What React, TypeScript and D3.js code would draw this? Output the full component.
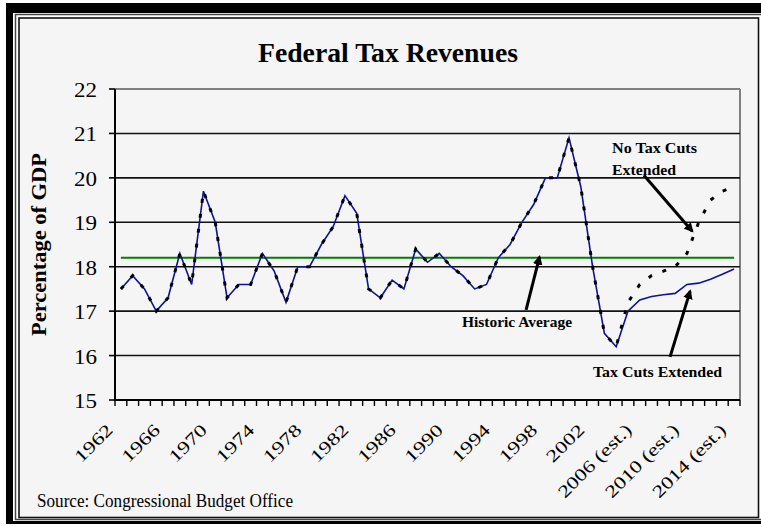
import React from 'react';
import * as d3 from 'd3';

const years = [1962, 1963, 1964, 1965, 1966, 1967, 1968, 1969, 1970, 1971, 1972, 1973, 1974, 1975, 1976, 1977, 1978, 1979, 1980, 1981, 1982, 1983, 1984, 1985, 1986, 1987, 1988, 1989, 1990, 1991, 1992, 1993, 1994, 1995, 1996, 1997, 1998, 1999, 2000, 2001, 2002, 2003, 2004, 2005, 2006, 2007, 2008, 2009, 2010, 2011, 2012, 2013, 2014];

// 1962-2004 actual revenues (% of GDP)
const historic = [17.5, 17.8, 17.5, 17.0, 17.3, 18.3, 17.6, 19.7, 19.0, 17.3, 17.6, 17.6, 18.3, 17.9, 17.2, 18.0, 18.0, 18.5, 18.9, 19.6, 19.2, 17.5, 17.3, 17.7, 17.5, 18.4, 18.1, 18.3, 18.0, 17.8, 17.5, 17.6, 18.2, 18.5, 19.0, 19.4, 20.0, 20.0, 20.9, 19.8, 18.0, 16.5, 16.2];
// 2005-2014 projections
const taxCutsExtendedProj = [17.0, 17.25, 17.33, 17.37, 17.4, 17.6, 17.63, 17.72, 17.83, 17.95];
const noTaxCutsExtendedProj = [17.2, 17.6, 17.8, 17.9, 18.0, 18.3, 19.0, 19.5, 19.7, 19.8];
const historicAverage = 18.2;

const yTicks = [15, 16, 17, 18, 19, 20, 21, 22];
const yGridValues = [16, 17, 18, 19, 20, 21];
const xLabelYears = [1962, 1966, 1970, 1974, 1978, 1982, 1986, 1990, 1994, 1998, 2002, 2006, 2010, 2014];
const xLabelTexts = ['1962', '1966', '1970', '1974', '1978', '1982', '1986', '1990', '1994', '1998', '2002', '2006 (est.)', '2010 (est.)', '2014 (est.)'];

const W = 761;
const H = 526;
const PL = 115, PR = 740, PT = 89, PB = 400;
const serif = "'Liberation Serif', 'Times New Roman', Times, serif";

export default function App() {
  const x = d3.scaleBand<number>().domain(years).range([PL, PR]).padding(0);
  const bw = x.bandwidth();
  const xc = (yr: number) => (x(yr) as number) + bw / 2;
  const xf = d3.scaleLinear().domain([1962, 2014]).range([xc(1962), xc(2014)]);
  const y = d3.scaleLinear().domain([15, 22]).range([PB, PT]);

  const extSeries = historic.concat(taxCutsExtendedProj);
  const noExtSeries = historic.concat(noTaxCutsExtendedProj);
  const line = d3.line<number>().x((_, i) => xc(years[i])).y((d) => y(d));

  const tickBoundaries = d3.range(years.length + 1).map((k) => PL + k * bw);

  // annotation arrows in data coordinates [year, value]
  const arrows: [number, number, number, number][] = [
    [2006.35, 20.06, 2010.45, 18.8],
    [1996.36, 17.03, 1997.5, historicAverage + 0.02],
    [2008.57, 15.97, 2010.27, 17.45],
  ];

  return (
    <svg width={W} height={H} style={{ position: 'absolute', left: 0, top: 0, display: 'block' }} fontFamily={serif}>
      <defs>
        <marker id="ah" viewBox="0 0 10 10" refX="8" refY="5" markerWidth="3.2" markerHeight="3.2" orient="auto" markerUnits="strokeWidth">
          <path d="M0,0 L10,5 L0,10 z" fill="#000" />
        </marker>
      </defs>
      <rect x={0} y={0} width={W} height={H} fill="#ffffff" />
      {/* outer frame */}
      <rect x={6} y={3} width={W - 6} height={10} fill="#000" />
      <rect x={6} y={3} width={7} height={521} fill="#000" />
      <rect x={6} y={521} width={W - 6} height={3} fill="#000" />
      <rect x={15.5} y={14.5} width={W} height={505} fill="none" stroke="#444" strokeWidth={1.5} />
      <rect x={19} y={18} width={739.5} height={499.5} fill="#f5f5f5" stroke="#111" strokeWidth={1.6} />

      {/* title */}
      <text x={258} y={62} fontSize={27} fontWeight="bold" textLength={260} lengthAdjust="spacingAndGlyphs" fill="#000">Federal Tax Revenues</text>

      {/* plot border */}
      <line x1={PL} x2={PR} y1={PT} y2={PT} stroke="#808080" strokeWidth={2} />
      <line x1={PR} x2={PR} y1={PT} y2={PB} stroke="#808080" strokeWidth={2} />

      {/* gridlines */}
      {yGridValues.map((v) => (
        <line key={'g' + v} x1={PL} x2={PR} y1={y(v)} y2={y(v)} stroke="#111" strokeWidth={1.6} />
      ))}

      {/* y axis */}
      <line x1={PL} x2={PL} y1={PT} y2={PB} stroke="#000" strokeWidth={2} />
      {yTicks.map((v) => (
        <g key={'yt' + v}>
          <line x1={PL - 6} x2={PL} y1={y(v)} y2={y(v)} stroke="#000" strokeWidth={1.6} />
          <text x={97} y={y(v) + 8} fontSize={20} textAnchor="end" textLength={23} lengthAdjust="spacingAndGlyphs" fill="#000">{v}</text>
        </g>
      ))}

      {/* x axis */}
      <line x1={PL} x2={PR} y1={PB} y2={PB} stroke="#000" strokeWidth={2} />
      {tickBoundaries.map((tx, k) => (
        <line key={'xt' + k} x1={tx} x2={tx} y1={PB} y2={PB + 6} stroke="#000" strokeWidth={1.4} />
      ))}
      {xLabelYears.map((yr, i) => {
        const txt = xLabelTexts[i];
        const len = txt.length > 4 ? 96 : 46;
        return (
          <text key={'xl' + yr} transform={`translate(${xc(yr) - 7},${431}) rotate(-45)`} fontSize={17.5} textAnchor="end" textLength={len} lengthAdjust="spacingAndGlyphs" fill="#000">{txt}</text>
        );
      })}

      {/* y axis title */}
      <text transform={`translate(46,${(PT + PB) / 2}) rotate(-90)`} fontSize={21} fontWeight="bold" textAnchor="middle" textLength={183} lengthAdjust="spacingAndGlyphs" fill="#000">Percentage of GDP</text>

      {/* historic average */}
      <line x1={xc(years[0])} x2={xc(years[years.length - 1])} y1={y(historicAverage)} y2={y(historicAverage)} stroke="#008000" strokeWidth={2} />

      {/* series */}
      <path d={line(extSeries) || ''} fill="none" stroke="#10109a" strokeWidth={1.6} />
      <path d={line(noExtSeries) || ''} fill="none" stroke="#000" strokeWidth={3} strokeDasharray="4 11" />

      {/* annotations */}
      {arrows.map(([x1, v1, x2, v2], i) => (
        <line key={'ar' + i} x1={xf(x1)} y1={y(v1)} x2={xf(x2)} y2={y(v2)} stroke="#000" strokeWidth={3} markerEnd="url(#ah)" />
      ))}
      <text x={612} y={153} fontSize={15} fontWeight="bold" textLength={85} lengthAdjust="spacingAndGlyphs" fill="#000">No  Tax Cuts</text>
      <text x={612} y={175} fontSize={15} fontWeight="bold" textLength={64} lengthAdjust="spacingAndGlyphs" fill="#000">Extended</text>
      <text x={462} y={327} fontSize={15} fontWeight="bold" textLength={110} lengthAdjust="spacingAndGlyphs" fill="#000">Historic Average</text>
      <text x={593} y={377} fontSize={15} fontWeight="bold" textLength={129} lengthAdjust="spacingAndGlyphs" fill="#000">Tax Cuts Extended</text>

      {/* source */}
      <text x={37} y={507} fontSize={19} textLength={256} lengthAdjust="spacingAndGlyphs" fill="#000">Source:  Congressional Budget Office</text>
    </svg>
  );
}
